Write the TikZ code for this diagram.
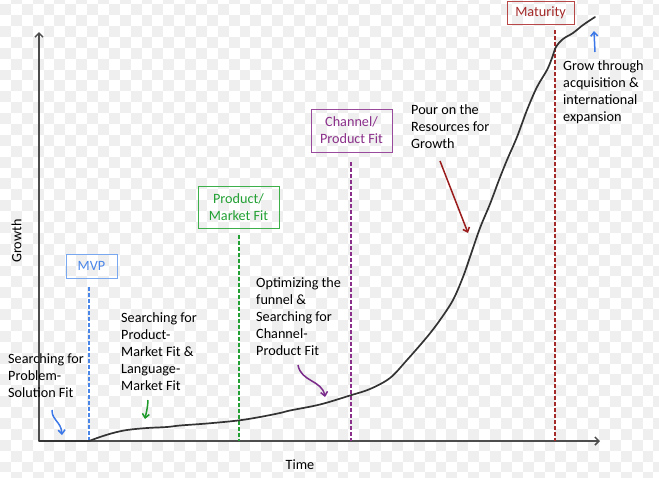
\documentclass[tikz,border=0pt]{standalone}
\usepackage{fontspec}
\setmainfont{Carlito}
\usetikzlibrary{arrows.meta}
\definecolor{axisgray}{HTML}{4D4D4D}
\definecolor{curvegray}{HTML}{333333}
\definecolor{checkgray}{HTML}{EFEFEF}
\definecolor{mvpblue}{HTML}{4A86E8}
\definecolor{mvpbox}{HTML}{7AA8F0}
\definecolor{pmfgreen}{HTML}{22A033}
\definecolor{pmfbox}{HTML}{3DB04A}
\definecolor{cpfpurple}{HTML}{8A2F8A}
\definecolor{cpfbox}{HTML}{9A4A9A}
\definecolor{matred}{HTML}{A52A2A}
\definecolor{matbox}{HTML}{B84848}
\definecolor{arrblue}{HTML}{3C78E8}
\definecolor{arrgreen}{HTML}{1E9A2A}
\definecolor{arrpurple}{HTML}{7A2A8A}
\definecolor{arrred}{HTML}{9B1C1C}
\newcommand{\stacklines}[1]{\begin{tabular}[t]{@{}l@{}}#1\end{tabular}}
\tikzset{
  axisline/.style={draw=axisgray,line width=1.5pt,-{Straight Barb[length=4pt,width=8pt]}},
  growthcurve/.style={draw=curvegray,line width=1.7pt,line cap=round},
  stagebox/.style={draw=#1,line width=0.9pt,inner sep=0pt,align=center,font=\fontsize{14.2}{16.8}\selectfont},
  stageline/.style={draw=#1,line width=1.5pt,dash pattern=on 4pt off 2pt},
  note/.style={anchor=base west,inner sep=0pt,font=\fontsize{14.2}{16.9}\selectfont,text=black},
  notearrow/.style={draw=#1,line width=1.5pt,-{Straight Barb[length=4pt,width=7pt]}},
  axislabel/.style={inner sep=0pt,font=\fontsize{14.2}{16}\selectfont,text=black}
}
\begin{document}
\begin{tikzpicture}[x=1pt,y=-1pt]
\useasboundingbox (0,0) rectangle (659,477);
\fill[white] (0,0) rectangle (659,477);
\begin{scope}
\clip (0,0) rectangle (659,477);
\foreach \i in {0,...,61}{\foreach \j in {0,...,45}{\ifodd\numexpr\i+\j\relax
  \fill[checkgray] (\i*10.89,\j*10.89-6.7) rectangle ++(10.89,10.89);\fi}}
\end{scope}

% axes
\coordinate (O) at (39,441);
\coordinate (ytip) at (39,32);
\coordinate (xtip) at (600,441);
\draw[axisline] (O) -- (ytip);
\draw[axisline] (O) -- (xtip);
\node[axislabel,rotate=90] (growthlbl) at (16.5,241) {Growth};
\node[axislabel] (timelbl) at (300,465) {Time};

% stage boxes
\node[stagebox=mvpbox,text=mvpblue,minimum width=51pt,minimum height=24pt] (mvp) at (91.5,266) {MVP};
\node[stagebox=pmfbox,text=pmfgreen,minimum width=81pt,minimum height=42pt] (pmf) at (238.5,207) {Product/\\Market Fit};
\node[stagebox=cpfbox,text=cpfpurple,minimum width=81pt,minimum height=43pt] (cpf) at (351.5,130.5) {Channel/\\Product Fit};
\node[stagebox=matbox,text=matred,minimum width=67pt,minimum height=23pt] (mat) at (540.5,12.5) {Maturity};

% stage lines
\coordinate (mvpT) at (89,287);   \coordinate (mvpB) at (89,441);
\coordinate (pmfT) at (239,235);  \coordinate (pmfB) at (239,441);
\coordinate (cpfT) at (351,162);  \coordinate (cpfB) at (351,441);
\coordinate (matT) at (555,30);   \coordinate (matB) at (555,441);
\draw[stageline=mvpblue] (mvpT) -- (mvpB);
\draw[stageline=pmfgreen] (pmfT) -- (pmfB);
\draw[stageline=cpfpurple] (cpfT) -- (cpfB);
\draw[stageline=matred] (matT) -- (matB);

% growth curve
\draw[growthcurve] (O) -- (89,441);
\draw[growthcurve] plot[smooth,tension=0.55] coordinates {
 (89,441) (100,437) (113,433) (127,430) (147,428) (167,427) (180,425.5) (207,423.5)
 (238,420.5) (260,417) (280,413) (290,410.5) (320,404.5) (350,395.5) (370,389) (390,378)
 (407,360) (427,337) (440,320) (453,300) (463,277) (470,257) (480,228) (490,204)
 (499,180) (507,160) (517,137) (527,110) (537,87) (547,70) (552,58) (556,47)
 (563,39) (573,33) (583,25) (595,17)};

% notes
\node[note] (psf) at (8,363.5) {\stacklines{Searching for\\Problem-\\Solution Fit}};
\node[note] (spm) at (121,322.5) {\stacklines{Searching for\\Product-\\Market Fit \&\\Language-\\Market Fit}};
\node[note] (opt) at (256,287.5) {\stacklines{Optimizing the\\funnel \&\\Searching for\\Channel-\\Product Fit}};
\node[note] (pour) at (411,114.5) {\stacklines{Pour on the\\Resources for\\Growth}};
\node[note] (grow) at (563,70.5) {\stacklines{Grow through\\acquisition \&\\international\\expansion}};

% note arrows
\coordinate (a1s) at (52,410);  \coordinate (a1e) at (62,435);
\coordinate (a2s) at (148,400); \coordinate (a2e) at (145,419);
\coordinate (a3s) at (298,365); \coordinate (a3e) at (325,397);
\coordinate (a4s) at (440,161); \coordinate (a4e) at (468,233);
\coordinate (a5s) at (595,52);  \coordinate (a5e) at (594,31);
\draw[notearrow=arrblue] (a1s) .. controls (52,421) and (61,421) .. (a1e);
\draw[notearrow=arrgreen] (a2s) .. controls (147.5,410) and (146,413) .. (a2e);
\draw[notearrow=arrpurple] (a3s) .. controls (301,382) and (322,380) .. (a3e);
\draw[notearrow=arrred] (a4s) -- (a4e);
\draw[notearrow=arrblue] (a5s) -- (a5e);
\end{tikzpicture}
\end{document}
